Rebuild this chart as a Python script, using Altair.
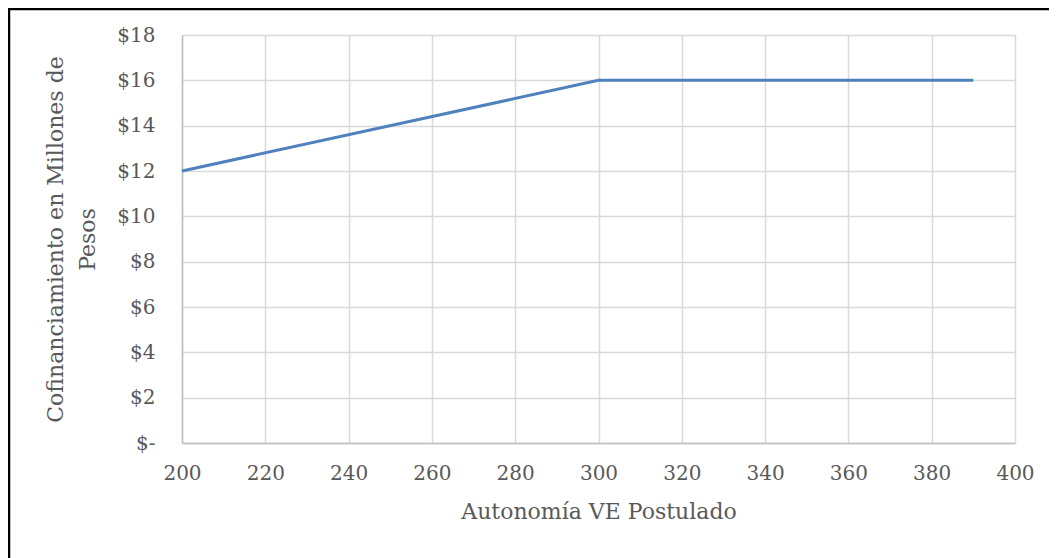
import altair as alt
import pandas as pd

# Data
autonomia = [200, 300, 390]
cofinanciamiento = [12, 16, 16]
x_ticks = [200, 220, 240, 260, 280, 300, 320, 340, 360, 380, 400]
y_ticks = [0, 2, 4, 6, 8, 10, 12, 14, 16, 18]

df = pd.DataFrame({"x": autonomia, "y": cofinanciamiento})
frame_df = pd.DataFrame({"k": [0]})

FONT = "DejaVu Serif"
TXT = "#595959"
W, H = 833, 408

line = alt.Chart(df).mark_line(color="#4F81BD", strokeWidth=3).encode(
    x=alt.X(
        "x:Q",
        scale=alt.Scale(domain=[200, 400], nice=False, zero=False),
        axis=alt.Axis(
            values=x_ticks,
            title="Autonomía VE Postulado",
            titlePadding=18,
            labelPadding=20,
            labelFlush=False,
        ),
    ),
    y=alt.Y(
        "y:Q",
        scale=alt.Scale(domain=[0, 18], nice=False),
        axis=alt.Axis(
            values=y_ticks,
            labelExpr="datum.value == 0 ? '$-' : '$' + datum.value",
            title=["Cofinanciamiento en Millones de", "Pesos"],
            titlePadding=17,
            labelPadding=27,
            titleLineHeight=32,
        ),
    ),
)

frame = alt.Chart(frame_df).mark_rect(
    fill=None, stroke="#000000", strokeWidth=2.5, clip=False
).encode(
    x=alt.value(-173),
    x2=alt.value(W + 300),
    y=alt.value(-26),
    y2=alt.value(H + 300),
)

chart = (
    alt.layer(frame, line)
    .properties(
        width=W,
        height=H,
        autosize=alt.AutoSizeParams(type="none"),
        padding={"left": 174, "top": 27, "right": 34, "bottom": 115},
    )
    .configure_view(stroke=None)
    .configure_axis(
        labelFont=FONT,
        titleFont=FONT,
        labelFontSize=20,
        titleFontSize=22,
        labelColor=TXT,
        titleColor=TXT,
        titleFontWeight="normal",
        ticks=False,
        domainColor="#BFBFBF",
        domainWidth=1.5,
        gridColor="#D9D9D9",
        gridWidth=1.5,
    )
)

chart.save("out.html", embed_options={"renderer": "svg", "actions": False})
